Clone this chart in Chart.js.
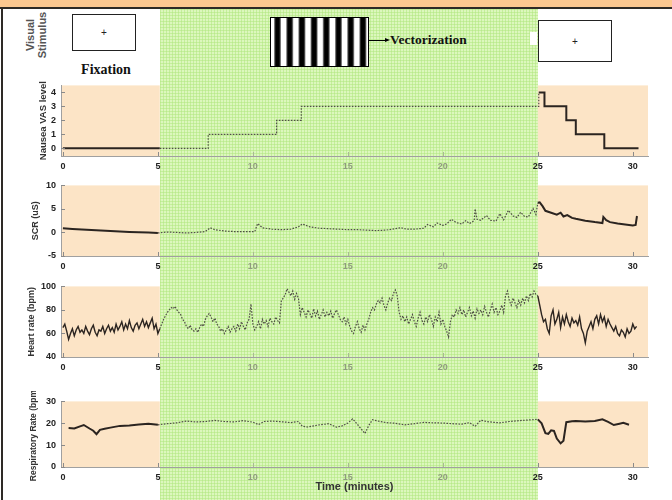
<!DOCTYPE html>
<html><head><meta charset="utf-8">
<script src="https://cdn.jsdelivr.net/npm/chart.js@4.4.1/dist/chart.umd.min.js"></script>
<style>
html,body{margin:0;padding:0;background:#fff;}
#fig{position:relative;width:672px;height:500px;overflow:hidden;background:#fff;font-family:"Liberation Sans",Arial,sans-serif;}
#topstrip{position:absolute;left:0;top:0;width:672px;height:7px;background:#fcc890;}
#topline{position:absolute;left:0;top:7px;width:672px;height:2px;background:#2e2a26;}
#leftline{position:absolute;left:1px;top:7px;width:2px;height:493px;background:#2e2a26;}
#green{position:absolute;top:9px;height:491px;left:160px;width:377px;background-color:#dcf7bd;
 background-image:linear-gradient(90deg,rgba(178,232,128,.55) 1px,transparent 1px),linear-gradient(180deg,rgba(178,232,128,.55) 1px,transparent 1px);
 background-size:3px 3px;}
canvas{position:absolute;left:0;}
.box{position:absolute;border:1px solid #222;background:#fff;display:flex;align-items:center;justify-content:center;font-size:10px;color:#222;}
.serif{position:absolute;font-family:"Liberation Serif","Times New Roman",serif;font-weight:bold;color:#111;white-space:nowrap;}
#vs{position:absolute;left:36px;top:35px;transform:translate(-50%,-50%) rotate(-90deg);font:bold 11px "Liberation Sans",Arial,sans-serif;color:#555;text-align:center;line-height:12px;white-space:nowrap;}
#grating{position:absolute;left:270px;top:17px;width:97px;height:48px;border:1px solid #000;
 background:repeating-linear-gradient(90deg,#fff 0px,#fff 2.5px,#333 4px,#000 5px,#000 8px,#333 9px,#fff 10.5px,#fff 12.2px);}
#arrowline{position:absolute;left:369px;top:40px;width:17px;height:1px;background:#000;}
#arrowhead{position:absolute;left:385px;top:38px;width:0;height:0;border-top:2.5px solid transparent;border-bottom:2.5px solid transparent;border-left:5px solid #000;}
</style></head>
<body>
<div id="fig">
 <div id="topstrip"></div>
 <div id="green"></div>
 <div id="topline"></div>
 <div id="leftline"></div>
 <div id="vs">Visual<br>Stimulus</div>
 <div class="box" style="left:72px;top:14px;width:62px;height:35px;">+</div>
 <div class="serif" style="left:106px;top:70px;transform:translate(-50%,-50%);font-size:14px;">Fixation</div>
 <div id="grating"></div>
 <div id="arrowline"></div><div id="arrowhead"></div>
 <div class="serif" style="left:390px;top:40px;transform:translateY(-50%);font-size:13.5px;">Vectorization</div>
 <div style="position:absolute;left:530px;top:32px;width:7px;height:13px;background:#fff;"></div>
 <div class="box" style="left:538px;top:20px;width:72px;height:40px;">+</div>
 <canvas id="c1"></canvas>
 <canvas id="c2"></canvas>
 <canvas id="c3"></canvas>
 <canvas id="c4"></canvas>
</div>
<script>
// ---- phases & axes ----
const greenStart = 5.1, greenEnd = 25.0;
const xTicks = [0, 5, 10, 15, 20, 25, 30];

// ---- Nausea VAS level (stepped) ----
const nauseaTime  = [0, 5.1, 7.65, 11.25, 12.55, 25.05, 25.35, 26.5, 27.0, 28.5, 30.3];
const nauseaLevel = [0, 0, 1, 2, 3, 4, 3, 2, 1, 0, 0];
const nauseaTicks = [0, 1, 2, 3, 4];

// ---- SCR (uS) ----
const scrTime = [0,0.5,1,1.5,2,2.5,3,3.5,4,4.5,
 5,5.5,6,6.5,7,7.5,7.75,8.0,8.5,9,
 9.5,10.1,10.25,10.5,11,11.5,12,12.4,12.6,13,
 13.5,14,14.5,15,15.5,16,16.5,17,17.5,17.8,
 18.1,18.5,19,19.2,19.5,19.7,20,20.2,20.45,20.7,
 21,21.2,21.4,21.65,21.7,21.8,22,22.3,22.5,22.8,
 23.0,23.2,23.45,23.7,23.9,24.1,24.3,24.5,24.75,24.9,
 25.0,25.1,25.25,25.4,25.7,26.0,26.2,26.35,26.55,26.8,
 27.0,27.5,28.0,28.4,28.45,28.6,28.8,29.2,29.6,30.0,
 30.15,30.22];
const scrValue = [0.9,0.75,0.62,0.5,0.4,0.3,0.2,0.12,0.05,-0.02,
 -0.1,0.1,0.0,-0.1,0.0,0.2,1.0,0.6,0.3,0.2,
 0.2,0.2,1.9,1.0,0.7,0.6,0.7,1.2,1.8,1.2,
 0.9,0.8,0.7,0.6,0.6,0.5,0.4,0.5,0.8,1.0,
 0.7,0.7,0.9,1.7,1.2,2.0,1.5,1.8,2.8,2.1,
 1.8,2.5,1.9,2.5,5.0,2.8,2.6,3.6,2.6,2.4,
 4.0,2.7,4.7,3.5,3.2,4.3,3.4,3.3,5.1,3.8,
 6.3,6.4,5.6,4.6,4.2,3.8,4.2,3.4,3.7,3.1,
 2.9,2.5,2.2,2.0,3.3,2.6,2.2,1.9,1.7,1.5,
 1.6,3.5];
const scrTicks = [-5, 0, 5, 10];

// ---- Heart rate (bpm), sampled every 0.1 min from t = 0 ----
const hrStart = 0, hrStep = 0.1;
const hrValue = [
 65,68,62,55,60,64,58,63,66,61,
 63,60,66,62,59,64,67,61,58,63,
 62,66,60,64,67,62,65,61,68,63,
 66,70,63,68,64,71,65,62,67,69,
 64,68,72,66,70,65,69,73,64,68,
 60,64,68,72,75,78,80,82,81,83,
 80,78,76,72,70,66,64,67,63,62,
 64,61,65,68,66,72,75,77,74,70,
 73,68,66,62,64,60,63,66,61,64,
 66,62,68,64,70,66,63,69,72,85,
 68,63,66,70,64,72,68,71,66,73,
 70,68,74,71,69,88,90,93,98,95,
 92,96,89,94,90,76,82,78,74,80,
 77,73,81,75,79,72,76,80,74,78,
 75,79,73,77,80,76,72,70,74,68,
 72,66,62,60,66,70,64,61,67,63,
 68,72,78,82,80,85,88,86,90,84,
 80,86,90,88,94,97,92,78,72,75,
 70,74,68,72,76,70,66,73,78,71,
 68,74,70,76,72,66,74,70,78,68,
 72,66,62,57,70,76,74,80,77,82,
 76,80,74,78,82,75,79,73,81,77,
 80,76,83,78,74,80,85,78,82,76,
 79,84,78,92,96,88,84,90,86,82,
 88,84,90,86,92,88,94,91,96,93,
 92,84,76,70,72,64,60,75,80,68,
 72,78,65,74,68,76,70,66,73,69,
 71,67,74,64,60,52,62,66,70,64,
 72,75,68,76,70,74,66,72,68,65,
 62,66,60,58,63,61,57,64,60,62,
 68,64,66];
const hrTicks = [40, 60, 80, 100];

// ---- Respiratory rate (bpm) ----
const respTime = [0.3,0.6,0.9,1.1,1.4,1.6,1.77,1.95,2.2,2.5,
 3.0,3.5,4.0,4.5,5.0,5.5,6.0,6.5,7.0,7.5,
 8.0,8.5,9.0,9.5,10.0,10.3,10.6,11.0,11.5,12.0,
 12.4,12.6,12.9,13.5,14.0,14.4,14.7,15.0,15.25,15.6,
 15.9,16.1,16.3,16.7,17.0,17.5,18.0,18.5,19.0,19.5,
 20.0,20.5,21.0,21.4,21.7,22.0,22.3,22.7,23.0,23.5,
 24.0,24.5,25.0,25.2,25.4,25.55,25.7,25.85,26.0,26.2,
 26.35,26.5,26.8,27.0,27.5,28.0,28.4,28.7,29.0,29.3,
 29.5,29.8];
const respValue = [17.8,17.6,18.6,19.2,17.6,16.6,15.0,17.0,17.5,18.0,
 18.8,19.0,19.4,19.8,19.3,19.8,20.2,21.0,20.6,20.8,
 21.3,20.8,20.6,21.2,20.5,19.4,20.8,21.0,20.7,20.3,
 20.8,18.6,18.3,19.3,19.8,18.2,18.8,20.1,22.0,18.5,
 15.3,19.0,21.6,20.8,20.3,20.0,19.3,19.8,20.4,20.2,
 20.1,19.8,19.6,20.3,18.6,21.4,20.8,20.4,20.2,20.8,
 21.2,21.5,21.8,20.0,15.5,15.2,16.8,16.5,13.0,10.8,
 12.0,20.5,20.9,21.0,20.8,21.0,21.8,20.6,19.2,19.8,
 20.2,19.3];
const respTicks = [0, 10, 20, 30];

// ---- styling ----
const plotOrange = '#fce4c6';
const lineDark = '#2b2420';
const lineGreen = '#4f4f45';
Chart.defaults.font.family = "'Liberation Sans', Arial, sans-serif";

function inGreen(c){ const m = (c.p0.parsed.x + c.p1.parsed.x) / 2; return m > greenStart && m < greenEnd; }

const phaseFill = {
  id: 'phaseFill',
  beforeDraw(chart){
    const {ctx, chartArea: a, scales: {x}} = chart;
    const g0 = x.getPixelForValue(greenStart), g1 = x.getPixelForValue(greenEnd);
    ctx.save(); ctx.fillStyle = plotOrange;
    ctx.fillRect(a.left, a.top, g0 - a.left, a.bottom - a.top);
    ctx.fillRect(g1, a.top, a.right - g1, a.bottom - a.top);
    ctx.restore();
  }
};
const inwardTicks = {
  id: 'inwardTicks',
  afterDraw(chart){
    const {ctx, chartArea: a, scales: {x, y}} = chart;
    ctx.save(); ctx.lineWidth = 1;
    x.ticks.forEach(t => {
      const px = Math.round(x.getPixelForValue(t.value)) + 0.5;
      ctx.strokeStyle = (t.value > greenStart && t.value < greenEnd) ? '#a9b894' : '#8a8a8a';
      ctx.beginPath(); ctx.moveTo(px, a.bottom); ctx.lineTo(px, a.bottom - 4); ctx.stroke();
    });
    ctx.strokeStyle = '#8a8a8a';
    y.ticks.forEach(t => {
      const py = Math.round(y.getPixelForValue(t.value)) + 0.5;
      ctx.beginPath(); ctx.moveTo(a.left, py); ctx.lineTo(a.left + 4, py); ctx.stroke();
    });
    ctx.restore();
  }
};

function pairs(xs, ys){ return ys.map((v, i) => ({x: xs[i], y: v})); }

function makeChart(id, plotTop, plotH, xAxisH, data, opts){
  const padTop = 8, padLeft = 20;
  const cv = document.getElementById(id);
  cv.width = 672; cv.height = padTop + plotH + xAxisH;
  cv.style.top = (plotTop - padTop) + 'px';
  return new Chart(cv, {
    type: 'line',
    data: { datasets: [{
      data: data, borderColor: lineDark, borderWidth: opts.lw || 2, pointRadius: 0, fill: false, tension: 0,
      stepped: opts.stepped || false,
      segment: {
        borderColor: c => inGreen(c) ? lineGreen : undefined,
        borderDash: c => inGreen(c) ? [1.6, 1.4] : undefined,
        borderWidth: c => inGreen(c) ? 1.2 : undefined
      }
    }]},
    options: {
      responsive: false, animation: false, devicePixelRatio: 1,
      layout: { padding: { left: padLeft, right: 24, top: padTop, bottom: 0 } },
      plugins: { legend: { display: false }, tooltip: { enabled: false } },
      scales: {
        x: {
          type: 'linear', min: -0.1, max: 30.8,
          afterBuildTicks: s => { s.ticks = xTicks.map(v => ({value: v})); },
          afterFit: s => { s.height = xAxisH; },
          grid: { display: false, drawTicks: false },
          border: { display: true, color: '#a0a0a0', width: 1 },
          ticks: { padding: 5, autoSkip: false, maxRotation: 0,
            font: { size: 9, weight: 'bold' },
            color: c => (c.tick.value > greenStart && c.tick.value < greenEnd) ? '#8f9c7e' : '#222' },
          title: opts.xTitle ? { display: true, text: opts.xTitle, color: '#333',
            font: { size: 11, weight: 'bold' }, padding: { top: 0, bottom: 3 } } : { display: false }
        },
        y: {
          type: 'linear', min: opts.yMin, max: opts.yMax,
          afterBuildTicks: s => { s.ticks = opts.yTicks.map(v => ({value: v})); },
          afterFit: s => { s.width = 61 - padLeft; },
          grid: { display: false, drawTicks: false },
          border: { display: true, color: '#a0a0a0', width: 1 },
          ticks: { padding: 5, font: { size: 9, weight: 'bold' }, color: '#222' },
          title: { display: true, text: opts.yTitle, color: '#333',
            font: { size: opts.yTitleSize || 9, weight: 'bold' },
            padding: { top: opts.yTitlePad, bottom: 0 } }
        }
      }
    },
    plugins: [phaseFill, inwardTicks]
  });
}

const c1 = makeChart('c1', 83, 73, 18, pairs(nauseaTime, nauseaLevel),
  { stepped: 'before', yMin: -0.55, yMax: 4.5, yTicks: nauseaTicks, yTitle: 'Nausea VAS level', yTitlePad: 18, yTitleSize: 9.5 });
makeChart('c2', 183, 73, 18, pairs(scrTime, scrValue),
  { yMin: -5, yMax: 10, yTicks: scrTicks, yTitle: 'SCR (uS)', yTitlePad: 10 });
makeChart('c3', 284, 73, 18, hrValue.map((v, i) => ({x: hrStart + i * hrStep, y: v})),
  { lw: 1.4, yMin: 40, yMax: 100, yTicks: hrTicks, yTitle: 'Heart rate (bpm)', yTitlePad: 6 });
makeChart('c4', 399, 68, 30, pairs(respTime, respValue),
  { yMin: 0, yMax: 30, yTicks: respTicks, yTitle: 'Respiratory Rate (bpm)', yTitlePad: 9, yTitleSize: 8.5, xTitle: 'Time (minutes)' });

// green phase band positioned from the x scale
const gx0 = c1.scales.x.getPixelForValue(greenStart), gx1 = c1.scales.x.getPixelForValue(greenEnd);
const gb = document.getElementById('green');
gb.style.left = gx0 + 'px'; gb.style.width = (gx1 - gx0) + 'px';
</script>
</body></html>
